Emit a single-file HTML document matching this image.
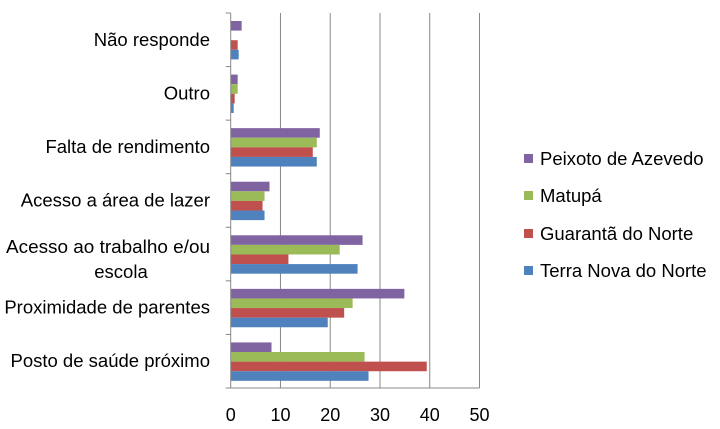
<!DOCTYPE html>
<html><head><meta charset="utf-8"><style>
body{margin:0;background:#fff;}
svg text{font-family:"Liberation Sans",sans-serif;fill:#000;}
</style></head><body>
<svg id="chart" width="720" height="424"></svg>
<script>
const categories=["Posto de saúde próximo","Proximidade de parentes","Acesso ao trabalho e/ou escola","Acesso a área de lazer","Falta de rendimento","Outro","Não responde"];
const seriesNames=["Terra Nova do Norte","Guarantã do Norte","Matupá","Peixoto de Azevedo"];
const terraNova=[27.7,19.5,25.5,6.8,17.3,0.6,1.6];
const guaranta=[39.4,22.8,11.6,6.4,16.5,0.8,1.4];
const matupa=[26.9,24.5,21.9,6.8,17.3,1.4,0];
const peixoto=[8.2,34.9,26.5,7.8,17.9,1.4,2.2];
const xTicks=[0,10,20,30,40,50];
const series=[terraNova,guaranta,matupa,peixoto];
const colors=["#4f81bd","#c0504d","#9bbb59","#8064a2"];
const NS="http://www.w3.org/2000/svg";
const svg=document.getElementById('chart');
const x0=230.7,x1=479.5,yTop=13,yBot=388,xMax=50;
const xs=v=>x0+v/xMax*(x1-x0);
const band=(yBot-yTop)/categories.length;
const catTop=i=>yBot-(i+1)*band;
function mk(t,a){const e=document.createElementNS(NS,t);for(const k in a)e.setAttribute(k,a[k]);svg.appendChild(e);return e;}
xTicks.forEach(t=>{
  if(t>0){const g=mk('line',{x1:xs(t),x2:xs(t),y1:yTop,y2:yBot,stroke:'#888','stroke-width':1});
  
  }
  const l=mk('text',{x:xs(t),y:421,'text-anchor':'middle','font-size':18});
  l.textContent=t;
  
  
});
const bh=9.6;
categories.forEach((c,i)=>{
  const top=catTop(i)+8;
  for(let s=3;s>=0;s--){
    const v=series[s][i];
    const y=top+(3-s)*bh;
    const r=mk('rect',{x:x0,y:y,width:Math.max(0,xs(v)-x0),height:bh,fill:colors[s]});
    
    
  }
  const tk=mk('line',{x1:x0-5,x2:x0,y1:catTop(i),y2:catTop(i),stroke:'#888'});
  
  
  const cy=catTop(i)+band/2;
  if(c==="Acesso ao trabalho e/ou escola"){
    const a=mk('text',{x:210,y:cy-1,'font-size':18.5,'text-anchor':'end',textLength:204,lengthAdjust:'spacingAndGlyphs'});a.textContent="Acesso ao trabalho e/ou";
    
    
    const b=mk('text',{x:121,y:cy+24,'font-size':18.5,'text-anchor':'middle'});b.textContent="escola";
    
    
  } else {
    const txt=mk('text',{x:210,y:cy+6,'text-anchor':'end','font-size':18.5});
    txt.textContent=c;
    
    
  }
});
const ax=mk('line',{x1:x0,x2:x0,y1:yTop,y2:yBot,stroke:'#888'});


const bx=mk('line',{x1:x0-5,x2:x1,y1:yBot,y2:yBot,stroke:'#888'});


const legY=[271,234,196,159];
seriesNames.forEach((n,s)=>{
  const r=mk('rect',{x:524,y:legY[s]-5,width:9,height:9,fill:colors[s]});
  
  
  const t=mk('text',{x:540,y:legY[s]+6,'font-size':18.5});
  t.textContent=n;
  
  
});
</script>
</body></html>
